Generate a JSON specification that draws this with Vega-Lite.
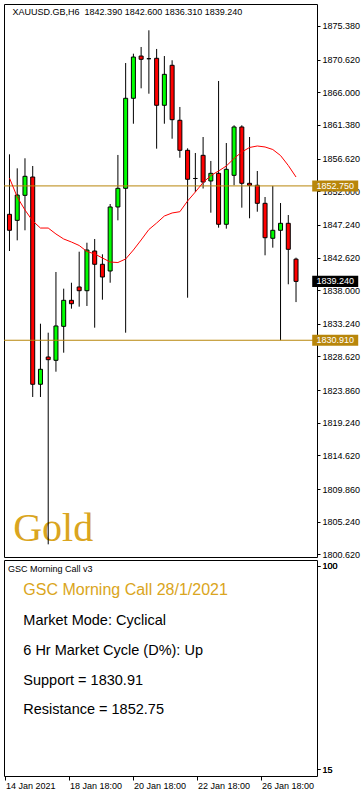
{
 "$schema": "https://vega.github.io/schema/vega-lite/v6.json",
 "background": "white",
 "padding": {"left": 3, "top": 3, "right": 0, "bottom": 0},
 "spacing": 3,
 "bounds": "flush",
 "config": {
  "view": {"stroke": "black", "strokeWidth": 1},
  "font": "Liberation Sans",
  "axis": {"grid": false, "domain": false, "ticks": true, "tickColor": "black", "tickSize": 3, "labelColor": "black", "labelFont": "Liberation Sans", "labelFontSize": 9, "labelPadding": 2, "labelFlush": false, "labelOverlap": false, "labelBound": false}
 },
 "datasets": {
  "candles": [
   {"i": 0, "open": 1848.73, "high": 1857.22, "low": 1843.54, "close": 1846.47, "ma": 1853.87},
   {"i": 1, "open": 1847.88, "high": 1855.24, "low": 1845.05, "close": 1851.46, "ma": 1851.18},
   {"i": 2, "open": 1851.42, "high": 1856.66, "low": 1846.47, "close": 1854.11, "ma": 1849.34},
   {"i": 3, "open": 1854.01, "high": 1855.57, "low": 1822.88, "close": 1824.68, "ma": 1847.79},
   {"i": 4, "open": 1824.68, "high": 1833.25, "low": 1822.88, "close": 1826.80, "ma": 1846.79},
   {"i": 5, "open": 1828.54, "high": 1831.98, "low": 1802.03, "close": 1828.16, "ma": 1846.79},
   {"i": 6, "open": 1828.07, "high": 1840.57, "low": 1826.46, "close": 1832.93, "ma": 1845.95},
   {"i": 7, "open": 1832.88, "high": 1838.21, "low": 1829.15, "close": 1836.56, "ma": 1845.24},
   {"i": 8, "open": 1836.56, "high": 1839.05, "low": 1835.38, "close": 1836.08, "ma": 1844.81},
   {"i": 9, "open": 1838.45, "high": 1843.44, "low": 1835.66, "close": 1837.92, "ma": 1844.32},
   {"i": 10, "open": 1837.92, "high": 1844.71, "low": 1835.76, "close": 1843.68, "ma": 1843.47},
   {"i": 11, "open": 1843.54, "high": 1845.24, "low": 1832.69, "close": 1841.66, "ma": 1843.12},
   {"i": 12, "open": 1841.66, "high": 1843.07, "low": 1836.65, "close": 1839.86, "ma": 1842.55},
   {"i": 13, "open": 1840.71, "high": 1850.19, "low": 1839.05, "close": 1849.77, "ma": 1841.98},
   {"i": 14, "open": 1849.77, "high": 1857.13, "low": 1847.88, "close": 1852.41, "ma": 1841.91},
   {"i": 15, "open": 1852.41, "high": 1870.14, "low": 1831.98, "close": 1865.15, "ma": 1842.41},
   {"i": 16, "open": 1865.15, "high": 1871.46, "low": 1861.55, "close": 1870.99, "ma": 1843.68},
   {"i": 17, "open": 1871.13, "high": 1872.41, "low": 1866.56, "close": 1870.67, "ma": 1845.10},
   {"i": 18, "open": 1870.75, "high": 1874.77, "low": 1865.80, "close": 1870.75, "ma": 1846.58},
   {"i": 19, "open": 1870.81, "high": 1872.13, "low": 1858.02, "close": 1864.16, "ma": 1847.50},
   {"i": 20, "open": 1864.16, "high": 1871.13, "low": 1861.55, "close": 1868.54, "ma": 1848.49},
   {"i": 21, "open": 1869.82, "high": 1870.53, "low": 1859.43, "close": 1862.12, "ma": 1848.92},
   {"i": 22, "open": 1862.04, "high": 1863.92, "low": 1856.74, "close": 1857.79, "ma": 1849.10},
   {"i": 23, "open": 1857.79, "high": 1858.07, "low": 1836.93, "close": 1853.69, "ma": 1850.62},
   {"i": 24, "open": 1853.80, "high": 1857.41, "low": 1851.89, "close": 1853.80, "ma": 1851.89},
   {"i": 25, "open": 1857.08, "high": 1859.67, "low": 1852.38, "close": 1853.30, "ma": 1853.23},
   {"i": 26, "open": 1853.45, "high": 1856.28, "low": 1848.96, "close": 1854.53, "ma": 1854.22},
   {"i": 27, "open": 1854.53, "high": 1867.60, "low": 1846.84, "close": 1847.32, "ma": 1854.86},
   {"i": 28, "open": 1847.32, "high": 1858.82, "low": 1846.70, "close": 1855.10, "ma": 1855.57},
   {"i": 29, "open": 1854.25, "high": 1861.33, "low": 1852.84, "close": 1861.09, "ma": 1856.63},
   {"i": 30, "open": 1861.09, "high": 1861.33, "low": 1849.67, "close": 1853.12, "ma": 1857.55},
   {"i": 31, "open": 1853.12, "high": 1859.67, "low": 1848.17, "close": 1852.84, "ma": 1858.19},
   {"i": 32, "open": 1852.84, "high": 1854.86, "low": 1849.10, "close": 1850.29, "ma": 1858.40},
   {"i": 33, "open": 1850.29, "high": 1851.18, "low": 1842.93, "close": 1845.42, "ma": 1858.26},
   {"i": 34, "open": 1845.34, "high": 1852.75, "low": 1844.01, "close": 1846.47, "ma": 1857.90},
   {"i": 35, "open": 1846.47, "high": 1850.33, "low": 1830.91, "close": 1847.46, "ma": 1857.05},
   {"i": 36, "open": 1847.46, "high": 1848.63, "low": 1838.83, "close": 1843.78, "ma": 1855.64},
   {"i": 37, "open": 1842.39, "high": 1842.60, "low": 1836.31, "close": 1839.24, "ma": 1854.01}
  ],
  "levels": [
   {"price": 1852.75, "kind": "resistance"},
   {"price": 1830.91, "kind": "support"},
   {"price": 1839.24, "kind": "last"}
  ],
  "cycleRange": [{"bound": 100}, {"bound": 15}],
  "notes": [
   {"line": "GSC Morning Call 28/1/2021", "role": "title"},
   {"line": "Market Mode: Cyclical", "role": "detail"},
   {"line": "6 Hr Market Cycle (D%): Up", "role": "detail"},
   {"line": "Support = 1830.91", "role": "detail"},
   {"line": "Resistance = 1852.75", "role": "detail"}
  ],
  "mainCaption": [{"caption": "XAUUSD.GB,H6\u00a0 1842.390 1842.600 1836.310 1839.240"}],
  "subCaption": [{"caption": "GSC Morning Call v3"}],
  "watermark": [{"label": "Gold"}]
 },
 "vconcat": [
  {
   "width": 313,
   "height": 553,
   "layer": [
    {
     "data": {"name": "watermark"},
     "mark": {"type": "text", "font": "Liberation Serif", "fontSize": 40, "fill": "#DAA520", "align": "left", "baseline": "alphabetic"},
     "encoding": {
      "x": {"datum": 0.475, "type": "quantitative", "scale": {"domain": [-0.0625, 39.0625], "nice": false, "zero": false}, "axis": null},
      "y": {"datum": 1802.5, "type": "quantitative", "scale": {"domain": [1800.238, 1878.493], "nice": false, "zero": false},
            "axis": {"orient": "right", "title": null, "format": ".3f", "values": [1875.38, 1870.62, 1866, 1861.38, 1856.62, 1852, 1847.24, 1842.62, 1838, 1833.24, 1828.62, 1823.86, 1819.24, 1814.62, 1809.86, 1805.24, 1800.62]}},
      "text": {"field": "label"}
     }
    },
    {
     "data": {"name": "mainCaption"},
     "mark": {"type": "text", "font": "Liberation Sans", "fontSize": 9, "fill": "black", "align": "left", "baseline": "alphabetic"},
     "encoding": {
      "x": {"datum": 0.4, "type": "quantitative", "scale": {"domain": [-0.0625, 39.0625], "nice": false, "zero": false}, "axis": null},
      "y": {"datum": 1876.94, "type": "quantitative", "scale": {"domain": [1800.238, 1878.493], "nice": false, "zero": false},
            "axis": {"orient": "right", "title": null, "format": ".3f", "values": [1875.38, 1870.62, 1866, 1861.38, 1856.62, 1852, 1847.24, 1842.62, 1838, 1833.24, 1828.62, 1823.86, 1819.24, 1814.62, 1809.86, 1805.24, 1800.62]}},
      "text": {"field": "caption"}
     }
    },
    {
     "data": {"name": "candles"},
     "mark": {"type": "rule", "color": "black", "strokeWidth": 1},
     "encoding": {
      "x": {"field": "i", "type": "quantitative", "scale": {"domain": [-0.0625, 39.0625], "nice": false, "zero": false}, "axis": null},
      "y": {"field": "low", "type": "quantitative", "scale": {"domain": [1800.238, 1878.493], "nice": false, "zero": false},
            "axis": {"orient": "right", "title": null, "format": ".3f", "values": [1875.38, 1870.62, 1866, 1861.38, 1856.62, 1852, 1847.24, 1842.62, 1838, 1833.24, 1828.62, 1823.86, 1819.24, 1814.62, 1809.86, 1805.24, 1800.62]}},
      "y2": {"field": "high"}
     }
    },
    {
     "data": {"name": "candles"},
     "mark": {"type": "bar", "width": 4, "stroke": "black", "strokeWidth": 1},
     "encoding": {
      "x": {"field": "i", "type": "quantitative", "scale": {"domain": [-0.0625, 39.0625], "nice": false, "zero": false}, "axis": null},
      "y": {"field": "open", "type": "quantitative", "scale": {"domain": [1800.238, 1878.493], "nice": false, "zero": false},
            "axis": {"orient": "right", "title": null, "format": ".3f", "values": [1875.38, 1870.62, 1866, 1861.38, 1856.62, 1852, 1847.24, 1842.62, 1838, 1833.24, 1828.62, 1823.86, 1819.24, 1814.62, 1809.86, 1805.24, 1800.62]}},
      "y2": {"field": "close"},
      "fill": {"condition": {"test": "datum.close >= datum.open", "value": "#00FF00"}, "value": "#FF0000"}
     }
    },
    {
     "data": {"name": "levels"},
     "transform": [{"filter": "datum.kind != 'last'"}],
     "mark": {"type": "rule", "color": "#B8860B", "strokeWidth": 1},
     "encoding": {
      "y": {"field": "price", "type": "quantitative", "scale": {"domain": [1800.238, 1878.493], "nice": false, "zero": false},
            "axis": {"orient": "right", "title": null, "format": ".3f", "values": [1875.38, 1870.62, 1866, 1861.38, 1856.62, 1852, 1847.24, 1842.62, 1838, 1833.24, 1828.62, 1823.86, 1819.24, 1814.62, 1809.86, 1805.24, 1800.62]}}
     }
    },
    {
     "data": {"name": "candles"},
     "mark": {"type": "line", "color": "#FF0000", "strokeWidth": 1},
     "encoding": {
      "x": {"field": "i", "type": "quantitative", "scale": {"domain": [-0.0625, 39.0625], "nice": false, "zero": false}, "axis": null},
      "y": {"field": "ma", "type": "quantitative", "scale": {"domain": [1800.238, 1878.493], "nice": false, "zero": false},
            "axis": {"orient": "right", "title": null, "format": ".3f", "values": [1875.38, 1870.62, 1866, 1861.38, 1856.62, 1852, 1847.24, 1842.62, 1838, 1833.24, 1828.62, 1823.86, 1819.24, 1814.62, 1809.86, 1805.24, 1800.62]}}
     }
    },
    {
     "data": {"name": "levels"},
     "mark": {"type": "point", "shape": "M-1,-0.24H1V0.24H-1Z", "filled": true, "size": 2116, "strokeWidth": 0, "opacity": 1, "clip": false},
     "encoding": {
      "x": {"datum": 42.06, "type": "quantitative", "scale": {"domain": [-0.0625, 39.0625], "nice": false, "zero": false}, "axis": null},
      "y": {"field": "price", "type": "quantitative", "scale": {"domain": [1800.238, 1878.493], "nice": false, "zero": false},
            "axis": {"orient": "right", "title": null, "format": ".3f", "values": [1875.38, 1870.62, 1866, 1861.38, 1856.62, 1852, 1847.24, 1842.62, 1838, 1833.24, 1828.62, 1823.86, 1819.24, 1814.62, 1809.86, 1805.24, 1800.62]}},
      "fill": {"condition": {"test": "datum.kind == 'last'", "value": "#000000"}, "value": "#B8860B"}
     }
    },
    {
     "data": {"name": "levels"},
     "mark": {"type": "text", "fill": "white", "fontSize": 9, "font": "Liberation Sans", "align": "center", "baseline": "middle", "clip": false},
     "encoding": {
      "x": {"datum": 42.06, "type": "quantitative", "scale": {"domain": [-0.0625, 39.0625], "nice": false, "zero": false}, "axis": null},
      "y": {"field": "price", "type": "quantitative", "scale": {"domain": [1800.238, 1878.493], "nice": false, "zero": false},
            "axis": {"orient": "right", "title": null, "format": ".3f", "values": [1875.38, 1870.62, 1866, 1861.38, 1856.62, 1852, 1847.24, 1842.62, 1838, 1833.24, 1828.62, 1823.86, 1819.24, 1814.62, 1809.86, 1805.24, 1800.62]}},
      "text": {"field": "price", "type": "quantitative", "format": ".3f"}
     }
    }
   ]
  },
  {
   "width": 313,
   "height": 216,
   "layer": [
    {
     "data": {"name": "cycleRange"},
     "mark": {"type": "rule", "strokeOpacity": 0},
     "encoding": {
      "y": {"field": "bound", "type": "quantitative", "scale": {"domain": [12.07, 102.51], "nice": false, "zero": false},
            "axis": {"orient": "right", "title": null, "values": [100, 15], "format": "d"}}
     }
    },
    {
     "data": {"name": "subCaption"},
     "mark": {"type": "text", "font": "Liberation Sans", "fontSize": 9, "fill": "black", "align": "left", "baseline": "alphabetic"},
     "encoding": {
      "x": {"datum": 0.45, "type": "quantitative", "scale": {"domain": [-0.0625, 39.0625], "nice": false, "zero": false},
            "axis": {"orient": "bottom", "title": null, "values": [0, 8, 16, 24, 32], "tickSize": 4, "labelAlign": "left", "labelBaseline": "top", "labelPadding": 1, "labelOffset": 1,
                     "labelExpr": "datum.value == 0 ? '14 Jan 2021' : datum.value == 8 ? '18 Jan 18:00' : datum.value == 16 ? '20 Jan 18:00' : datum.value == 24 ? '22 Jan 18:00' : '26 Jan 18:00'"}},
      "y": {"datum": 97.49, "type": "quantitative", "scale": {"domain": [12.07, 102.51], "nice": false, "zero": false},
            "axis": {"orient": "right", "title": null, "values": [100, 15], "format": "d"}},
      "text": {"field": "caption"}
     }
    },
    {
     "data": {"name": "notes"},
     "mark": {"type": "text", "align": "left", "baseline": "alphabetic", "font": "Liberation Sans"},
     "encoding": {
      "x": {"datum": 2.35, "type": "quantitative", "scale": {"domain": [-0.0625, 39.0625], "nice": false, "zero": false},
            "axis": {"orient": "bottom", "title": null, "values": [0, 8, 16, 24, 32], "tickSize": 4, "labelAlign": "left", "labelBaseline": "top", "labelPadding": 1, "labelOffset": 1,
                     "labelExpr": "datum.value == 0 ? '14 Jan 2021' : datum.value == 8 ? '18 Jan 18:00' : datum.value == 16 ? '20 Jan 18:00' : datum.value == 24 ? '22 Jan 18:00' : '26 Jan 18:00'"}},
      "y": {"field": "line", "type": "ordinal", "sort": null, "scale": {"type": "point", "range": [35.3, 154.3], "padding": 0}, "axis": null},
      "text": {"field": "line"},
      "fill": {"condition": {"test": "datum.role == 'title'", "value": "#DAA520"}, "value": "#000000"},
      "size": {"condition": {"test": "datum.role == 'title'", "value": 16}, "value": 14.5}
     }
    }
   ],
   "resolve": {"scale": {"y": "independent"}, "axis": {"y": "independent"}}
  }
 ]
}
